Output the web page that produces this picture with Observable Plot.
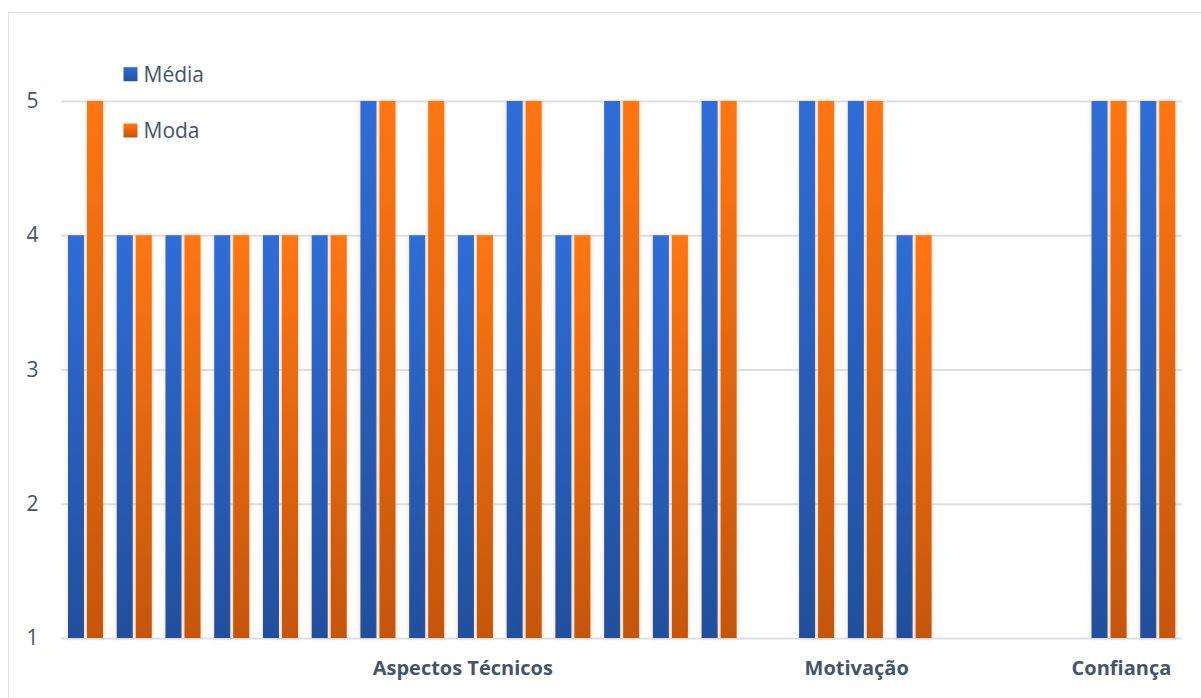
<!DOCTYPE html>
<html>
<head>
<meta charset="utf-8">
<script src="https://cdn.jsdelivr.net/npm/d3@7"></script>
<script src="https://cdn.jsdelivr.net/npm/@observablehq/plot@0.6"></script>
<style>
  html, body { margin: 0; padding: 0; background: #fff; }
  #chart { position: relative; width: 1201px; height: 698px; overflow: hidden; }
  #chart svg { position: absolute; left: 0; top: 0; }
  #border {
    position: absolute; left: 8px; top: 12px; width: 1400px; height: 900px;
    border: 1px solid #dfe3e8; box-sizing: border-box; pointer-events: none;
  }
</style>
</head>
<body>
<div id="chart"><div id="border"></div></div>
<script>
// Survey items (one slot each); empty slots separate the groups
const items = ["1","2","3","4","5","6","7","8","9","10","11","12","13","14","15","16","17","18","19","20","21","22","23"];
const media = [4, 4, 4, 4, 4, 4, 5, 4, 4, 5, 4, 5, 4, 5, null, 5, 5, 4, null, null, null, 5, 5];
const moda  = [5, 4, 4, 4, 4, 4, 5, 5, 4, 5, 4, 5, 4, 5, null, 5, 5, 4, null, null, null, 5, 5];
const series = ["Média", "Moda"];
const yTicks = [1, 2, 3, 4, 5];

// Group captions along the category axis, attached to an item slot
const groupLabels = ["Aspectos Técnicos", "Motivação", "Confiança"];
const groupItems = ["9", "17", "22"];
const groupShift = [-13, -9, 12];

const rows = [];
items.forEach((item, i) => {
  if (media[i] != null) rows.push({item, series: "Média", value: media[i]});
  if (moda[i] != null) rows.push({item, series: "Moda", value: moda[i]});
});

const fills = {"Média": "url(#gMedia)", "Moda": "url(#gModa)"};
const ink = "#44546a";
const glow = "drop-shadow(0 0 2.5px rgba(246, 178, 128, 0.55))";

// vertical gradients for the two series
function gradients() {
  const defs = d3.create("svg:defs");
  const add = (id, top, bottom) => {
    const g = defs.append("linearGradient").attr("id", id)
      .attr("x1", 0).attr("y1", 0).attr("x2", 0).attr("y2", 1);
    g.append("stop").attr("offset", "0%").attr("stop-color", top);
    g.append("stop").attr("offset", "100%").attr("stop-color", bottom);
  };
  add("gMedia", "#2f6dd7", "#214f9c");
  add("gModa", "#ff7613", "#c4560c");
  return defs.node();
}

const legendDy = {"Média": -27.3, "Moda": 29};

const chart = Plot.plot({
  width: 1201,
  height: 698,
  marginLeft: 61,
  marginRight: 19,
  marginTop: 101,
  marginBottom: 60,
  style: {background: "transparent", fontFamily: "'Open Sans', sans-serif", color: ink},
  x: {domain: items, padding: 0, round: false, axis: null},
  y: {domain: [1, 5], axis: null},
  marks: [
    gradients,
    Plot.ruleY(yTicks, {stroke: "#dbdfe5", strokeWidth: 2}),
    Plot.axisY(yTicks, {
      tickSize: 0, tickPadding: 23, fontSize: 21, fill: ink,
      tickFormat: d => String(d), label: null
    }),
    Plot.barY(rows.filter(d => d.series === "Média"), {
      x: "item", y1: 1, y2: "value", fill: fills["Média"],
      insetLeft: 7, insetRight: 25.7, imageFilter: glow
    }),
    Plot.barY(rows.filter(d => d.series === "Moda"), {
      x: "item", y1: 1, y2: "value", fill: fills["Moda"],
      insetLeft: 26, insetRight: 6.7, imageFilter: glow
    }),
    // category group captions
    ...groupLabels.map((label, i) => Plot.text([groupItems[i]], {
      x: d => d, text: () => label, frameAnchor: "bottom", lineAnchor: "middle",
      dy: 30, dx: groupShift[i], fontSize: 20, fontWeight: 700, fill: ink
    })),
    // legend inside the plot area
    ...series.map(s => Plot.dot([s], {
      frameAnchor: "top-left", dx: 69, dy: legendDy[s],
      symbol: "square", r: 7.9, fill: fills[s]
    })),
    ...series.map(s => Plot.text([s], {
      frameAnchor: "top-left", lineAnchor: "middle", textAnchor: "start",
      dx: 82, dy: legendDy[s] + 0.6,
      text: d => d, fontSize: 21, fill: ink
    }))
  ]
});

document.getElementById("chart").prepend(chart);
</script>
</body>
</html>
